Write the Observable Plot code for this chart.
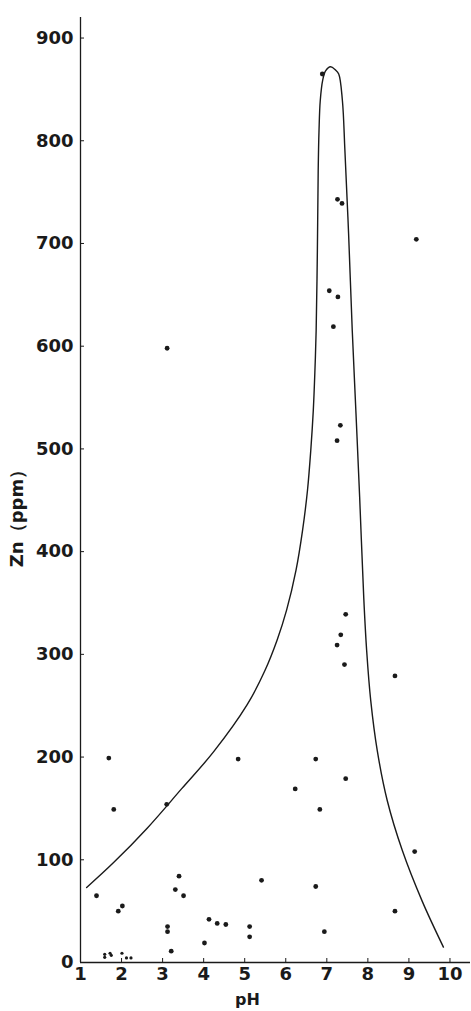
<!DOCTYPE html>
<html>
<head>
<meta charset="utf-8">
<script src="https://cdn.jsdelivr.net/npm/d3@7"></script>
<script src="https://cdn.jsdelivr.net/npm/@observablehq/plot@0.6"></script>
<style>
  html, body { margin: 0; padding: 0; background: #fff; }
  svg { display: block; }
</style>
</head>
<body>
<script>
// Tick values
const xTicks = [1, 2, 3, 4, 5, 6, 7, 8, 9, 10];
const yTicks = [0, 100, 200, 300, 400, 500, 600, 700, 800, 900];

// Measured samples: pH and Zn (ppm)
const samplePH = [6.89, 7.26, 7.37, 9.18, 7.06, 7.27, 7.16, 3.11, 7.33, 7.25,
  7.46, 7.34, 7.25, 7.43, 8.66, 1.69, 4.84, 6.73, 7.46, 6.23,
  1.81, 3.10, 6.83, 9.14, 3.40, 5.41, 6.73, 3.31, 1.39, 3.51,
  2.02, 1.92, 8.66, 4.13, 4.33, 4.54, 3.12, 5.12, 6.94, 3.12,
  5.12, 4.02, 3.21];
const sampleZn = [865, 743, 739, 704, 654, 648, 619, 598, 523, 508,
  339, 319, 309, 290, 279, 199, 198, 198, 179, 169,
  149, 154, 149, 108, 84, 80, 74, 71, 65, 65,
  55, 50, 50, 42, 38, 37, 35, 35, 30, 30,
  25, 19, 11];

// Trace-level samples (small marks near zero)
const tracePH = [1.59, 1.59, 1.72, 1.75, 2.01, 2.12, 2.23];
const traceZn = [8, 5, 9, 7, 9, 4.5, 4.5];

// Envelope curve
const envPH = [1.15, 1.80, 2.63, 3.46, 4.24, 5.06, 5.49, 5.79, 6.02, 6.25,
  6.41, 6.53, 6.61, 6.67, 6.71, 6.74, 6.77, 6.79, 6.81, 6.84,
  6.90, 6.97, 7.09, 7.21, 7.29, 7.38, 7.44, 7.53, 7.62, 7.71,
  7.80, 7.90, 7.97, 8.07, 8.23, 8.47, 8.84, 9.32, 9.84];
const envZn = [73, 97, 131, 169, 205, 251, 284, 314, 343, 382,
  421, 460, 499, 537, 576, 615, 693, 771, 810, 839,
  859, 868, 872, 869, 865, 839, 791, 710, 615, 535,
  453, 355, 304, 255, 206, 158, 109, 60, 15];

const samples = samplePH.map((p, i) => ({pH: p, zn: sampleZn[i]}));
const traces = tracePH.map((p, i) => ({pH: p, zn: traceZn[i]}));
const envelope = envPH.map((p, i) => ({pH: p, zn: envZn[i]}));

const ink = "#1a1a1a";

const chart = Plot.plot({
  width: 471,
  height: 1011,
  marginLeft: 80,
  marginRight: 1,
  marginTop: 17,
  marginBottom: 49,
  style: {fontFamily: "'DejaVu Sans', sans-serif", background: "#fff", color: ink},
  x: {domain: [1, 10.5], label: null},
  y: {domain: [0, 920], label: null},
  marks: [
    Plot.ruleX([1], {stroke: ink, strokeWidth: 1.3}),
    Plot.ruleY([0], {stroke: ink, strokeWidth: 1.3}),
    Plot.axisX({ticks: xTicks, tickSize: -4, tickPadding: 9, fontSize: 18, fontWeight: "bold", label: null, stroke: ink, fill: ink}),
    Plot.axisY({ticks: yTicks, tickSize: -4, tickPadding: 11, fontSize: 18, fontWeight: "bold", label: null, stroke: ink, fill: ink}),
    Plot.line(envelope, {x: "pH", y: "zn", curve: "catmull-rom", stroke: ink, strokeWidth: 1.4}),
    Plot.dot(samples, {x: "pH", y: "zn", r: 2.4, fill: ink, stroke: "none"}),
    Plot.dot(traces, {x: "pH", y: "zn", r: 1.6, fill: ink, stroke: "none"}),
    Plot.text(["pH"], {frameAnchor: "bottom", dx: -28, dy: 42, fontSize: 16, fontWeight: "bold", fill: ink}),
    Plot.text(["Zn（ppm）"], {frameAnchor: "left", textAnchor: "middle", rotate: -90, dx: -63, dy: 24, fontSize: 18, fontWeight: "bold", fill: ink})
  ]
});

document.body.append(chart);
</script>
</body>
</html>
